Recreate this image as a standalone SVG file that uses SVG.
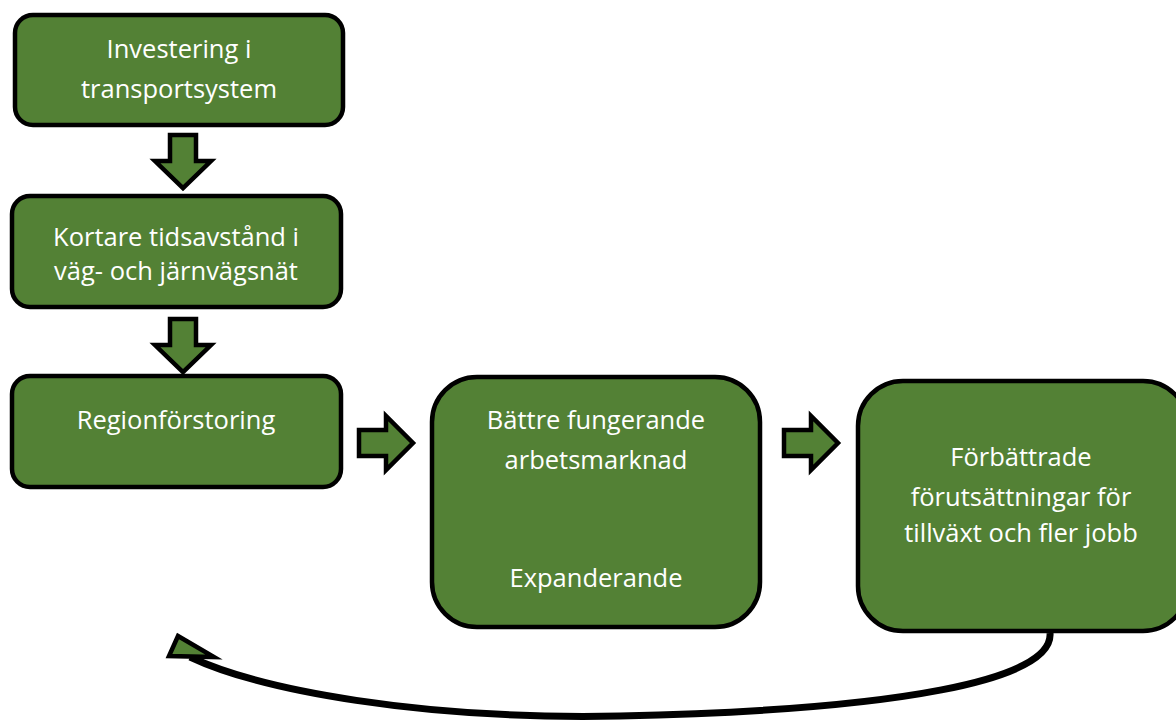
<svg xmlns="http://www.w3.org/2000/svg" width="1176" height="722" viewBox="0 0 1176 722">
<style>
.box{fill:#538135;stroke:#000;stroke-width:4.5}
.arr{fill:#538135;stroke:#000;stroke-width:4.5;stroke-linejoin:miter}
text{font-family:"Open Sans","Liberation Sans",sans-serif;font-size:25.5px;fill:#fff;text-anchor:middle}
</style>
<rect width="1176" height="722" fill="#fff"/>
<g id="n1"><rect class="box" x="15" y="15" width="328" height="110" rx="18"/><text x="179" y="58">Investering i</text><text x="179" y="98">transportsystem</text></g>
<g id="n2"><rect class="box" x="12" y="196" width="329" height="111" rx="18"/><text x="176" y="246">Kortare tidsavstånd i</text><text x="176" y="280">väg- och järnvägsnät</text></g>
<g id="n3"><rect class="box" x="12" y="376" width="329" height="111" rx="18"/><text x="176" y="429">Regionförstoring</text></g>
<g id="n4"><rect class="box" x="432" y="377" width="328" height="250" rx="45"/><text x="596" y="429">Bättre fungerande</text><text x="596" y="469">arbetsmarknad</text><text x="596" y="587">Expanderande</text></g>
<g id="n5"><rect class="box" x="858" y="381" width="330" height="250" rx="45"/><text x="1021" y="466">Förbättrade</text><text x="1021" y="506">förutsättningar för</text><text x="1021" y="542">tillväxt och fler jobb</text></g>
<g id="connectors">
<path class="arr" d="M170,135 H196 V161 H211 L183,188 L155,161 H170 Z"/>
<path class="arr" d="M170,319 H196 V345 H211 L183,372 L155,345 H170 Z"/>
<path class="arr" d="M359,430 H386 V416 L413,443 L386,470 V456 H359 Z"/>
<path class="arr" d="M784,430 H811 V416 L838,443 L811,470 V456 H784 Z"/>
<path d="M1050,633 C1054,680 900,710 620,716 C420,720 260,690 190,657" fill="none" stroke="#000" stroke-width="7"/>
<path class="arr" d="M178,636 L214,657 L169,656 Z"/>
</g>
</svg>
